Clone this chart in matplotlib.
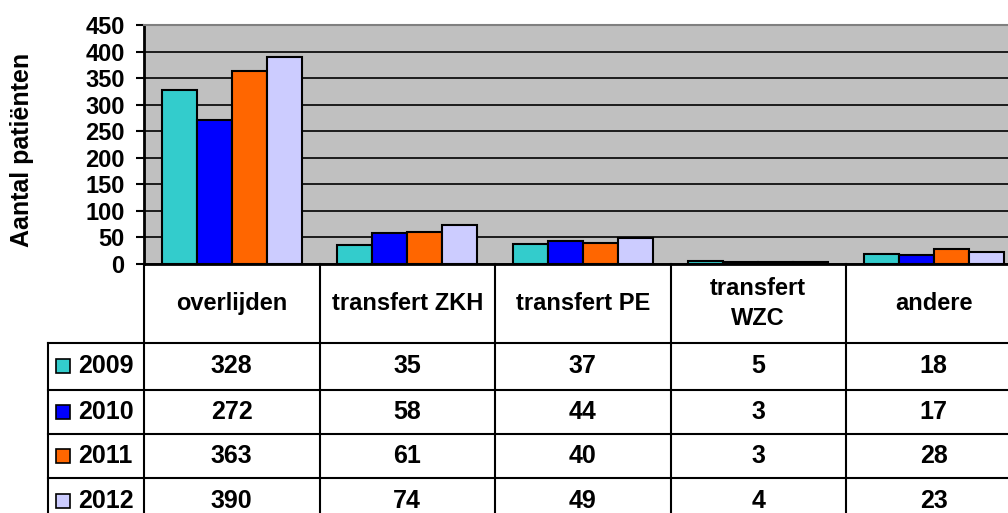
import matplotlib
matplotlib.use("Agg")
import matplotlib.pyplot as plt
from matplotlib.lines import Line2D
from matplotlib.patches import Rectangle
import numpy as np

categories = ["overlijden", "transfert ZKH", "transfert PE", "transfert\nWZC", "andere"]
years = ["2009", "2010", "2011", "2012"]
v2009 = [328, 35, 37, 5, 18]
v2010 = [272, 58, 44, 3, 17]
v2011 = [363, 61, 40, 3, 28]
v2012 = [390, 74, 49, 4, 23]
series = [v2009, v2010, v2011, v2012]
colors = ["#33CCCC", "#0000FF", "#FF6600", "#CCCCFF"]
yticks = [0, 50, 100, 150, 200, 250, 300, 350, 400, 450]
ylabel = "Aantal patiënten"

W, H = 1008, 513
plt.rcParams['font.family'] = ['Liberation Sans', 'DejaVu Sans']
plt.rcParams['font.weight'] = 'bold'
fig = plt.figure(figsize=(W / 100, H / 100), dpi=100)

def fx(x):
    return x / W

def fy(y):
    return 1 - y / H

# plot area geometry (pixels)
left, right, top, bottom = 144, 1021.5, 25, 264
ax = fig.add_axes([fx(left), fy(bottom), fx(right - left), (bottom - top) / H])
ax.set_facecolor("#C0C0C0")
n = len(categories)
x = np.arange(n)
bw = 0.2
for i, (vals, c) in enumerate(zip(series, colors)):
    ax.bar(x + (i - 1.5) * bw, vals, width=bw, color=c, edgecolor="black",
           linewidth=1.5, zorder=3)
ax.set_xlim(-0.5, n - 0.5)
ax.set_ylim(0, 450)
ax.set_yticks(yticks)
ax.set_yticklabels([str(t) for t in yticks], fontsize=17, fontweight='bold')
ax.set_xticks([])
ax.yaxis.grid(True, color="black", linewidth=1.2, zorder=1)
ax.set_axisbelow(True)
ax.tick_params(axis='y', length=6, width=1.5, pad=8, colors='black')
for s in ["left", "bottom"]:
    ax.spines[s].set_linewidth(2)
    ax.spines[s].set_color("black")
ax.spines["top"].set_color("#808080")
ax.spines["top"].set_linewidth(1.5)
ax.spines["right"].set_visible(False)

fig.text(fx(22), fy(150), ylabel, rotation=90, ha='center', va='center',
         fontsize=18, fontweight='bold')

# data table
lw = 1.5
col_edges = [left + k * (right - left) / n for k in range(n + 1)]
row_edges = [264, 343, 389.5, 434, 478, 523]
leg_left = 48

def hline(y, x0, x1):
    fig.add_artist(Line2D([fx(x0), fx(x1)], [fy(y), fy(y)], color='black', lw=lw))

def vline(x0, y0, y1):
    fig.add_artist(Line2D([fx(x0), fx(x0)], [fy(y0), fy(y1)], color='black', lw=lw))

for k, xe in enumerate(col_edges):
    vline(xe, row_edges[0], row_edges[-1])
vline(leg_left, row_edges[1], row_edges[-1])
for ye in row_edges[1:]:
    hline(ye, leg_left, right)

for j, cat in enumerate(categories):
    cx = (col_edges[j] + col_edges[j + 1]) / 2
    cy = (row_edges[0] + row_edges[1]) / 2
    fig.text(fx(cx), fy(cy), cat, ha='center', va='center', fontsize=17,
             fontweight='bold', linespacing=1.4)

for i, (yr, vals, c) in enumerate(zip(years, series, colors)):
    cy = (row_edges[i + 1] + row_edges[i + 2]) / 2
    fig.add_artist(Rectangle((fx(56), fy(cy + 7)), 14 / W, 14 / H,
                             facecolor=c, edgecolor='black', lw=1.2,
                             transform=fig.transFigure))
    fig.text(fx(78), fy(cy), yr, ha='left', va='center', fontsize=18,
             fontweight='bold')
    for j, v in enumerate(vals):
        cx = (col_edges[j] + col_edges[j + 1]) / 2
        fig.text(fx(cx), fy(cy), str(v), ha='center', va='center', fontsize=18,
                 fontweight='bold')

fig.savefig("out.png", dpi=100, facecolor="white")
